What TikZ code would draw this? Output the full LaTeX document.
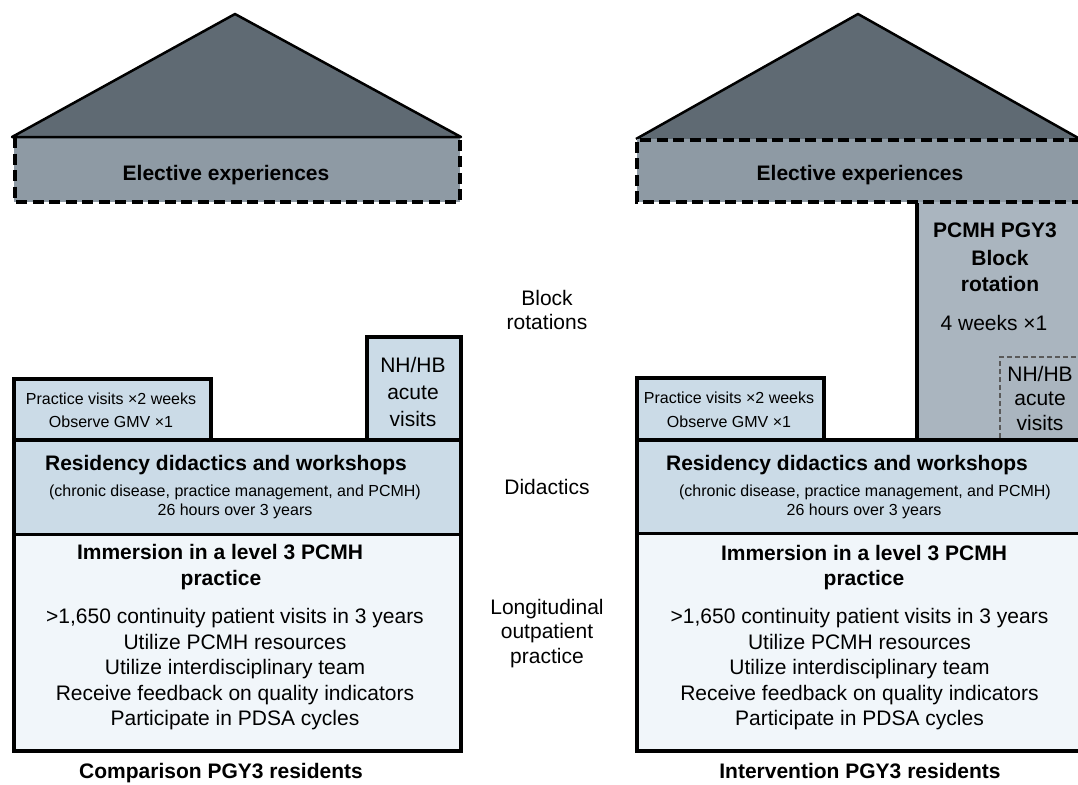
\documentclass[tikz,border=0pt]{standalone}
\usepackage{fontspec}
\setmainfont{Liberation Sans}
\definecolor{roofc}{HTML}{5F6A73}
\definecolor{electc}{HTML}{8E9AA4}
\definecolor{pcmhc}{HTML}{AAB5BF}
\definecolor{lbluec}{HTML}{CBDBE7}
\definecolor{palec}{HTML}{F1F6FA}
\tikzset{
  lbl/.style={anchor=base, inner sep=0pt, text=black},
  rtxt/.style={lbl, font=\fontsize{21}{25}\selectfont},
  btxt/.style={lbl, font=\fontsize{21}{25}\selectfont\bfseries},
  stxt/.style={lbl, font=\fontsize{16}{19}\selectfont},
  heavy/.style={draw=black, line width=4pt, line join=miter},
  midline/.style={draw=black, line width=3pt},
  roofline/.style={draw=black, line width=2.5pt, line join=round},
  elecdash/.style={draw=black, line width=4pt, dash pattern=on 11pt off 5.5pt},
  thindash/.style={draw=black!65, line width=1.3pt, dash pattern=on 5pt off 3pt},
}
\begin{document}
\begin{tikzpicture}[x=1pt,y=-1pt]
\useasboundingbox (0,0) rectangle (1078,784);
\clip (0,0) rectangle (1078,784);

% ---------------- Left house ----------------
\fill[roofc] (12,137) -- (235,14) -- (461,137) -- cycle;
\fill[electc] (14,137) rectangle (460,201.5);
\draw[elecdash] (14.5,137) -- (14.5,201.5) -- (460,201.5) -- (460,137);
\draw[roofline] (12,137) -- (235,14) -- (461,137) -- cycle;

\fill[lbluec] (14,379) rectangle (211,440);
\fill[lbluec] (367,337) rectangle (461,440);
\fill[lbluec] (14,440) rectangle (461,534);
\fill[palec] (14,534) rectangle (461,751);
\draw[heavy] (14,751) -- (14,379) -- (211,379) -- (211,440) -- (367,440) -- (367,337) -- (461,337) -- (461,751) -- cycle;
\draw[heavy] (14,440) -- (461,440);
\draw[midline] (14,534) -- (461,534);

% ---------------- Right house ----------------
\fill[roofc] (636,139) -- (858,14) -- (1080,139) -- cycle;
\draw[roofline] (636,139) -- (858,14) -- (1080,139);
\fill[pcmhc] (917,201.5) rectangle (1080,440);
\fill[electc] (636.5,139) rectangle (1080,201.5);
\draw[elecdash] (1080,139.5) -- (636.5,139.5) -- (636.5,201.5) -- (1080,201.5);

\fill[lbluec] (637,378) rectangle (824,440);
\fill[lbluec] (637,440) rectangle (1080,533);
\fill[palec] (637,533) rectangle (1080,751);
\draw[heavy] (1080,751) -- (637,751) -- (637,378) -- (824,378) -- (824,440);
\draw[heavy] (917,203) -- (917,440);
\draw[heavy] (637,440) -- (1080,440);
\draw[midline] (637,533) -- (1080,533);
\draw[thindash] (1000,438) -- (1000,357) -- (1080,357);

% ---------------- Left texts ----------------
\node[btxt] (elL) at (226,180.5) {Elective experiences};
\node[stxt] (pvL1) at (111,404.5) {Practice visits ×2 weeks};
\node[stxt] (pvL2) at (111,427.5) {Observe GMV ×1};
\node[rtxt] (nhL1) at (413,372.5) {NH/HB};
\node[rtxt] (nhL2) at (413,399.5) {acute};
\node[rtxt] (nhL3) at (413,426) {visits};
\node[btxt] (didL1) at (226,470.5) {Residency didactics and workshops};
\node[stxt] (didL2) at (235,496.5) {(chronic disease, practice management, and PCMH)};
\node[stxt] (didL3) at (235,515.5) {26 hours over 3 years};
\node[btxt] (imL1) at (220,559.5) {Immersion in a level 3 PCMH};
\node[btxt] (imL2) at (221,585) {practice};
\node[rtxt] (imL3) at (235,623) {>1,650 continuity patient visits in 3 years};
\node[rtxt] (imL4) at (235,649) {Utilize PCMH resources};
\node[rtxt] (imL5) at (235,674.5) {Utilize interdisciplinary team};
\node[rtxt] (imL6) at (235,700) {Receive feedback on quality indicators};
\node[rtxt] (imL7) at (235,725.5) {Participate in PDSA cycles};
\node[btxt] (capL) at (221,778.5) {Comparison PGY3 residents};

% ---------------- Middle labels ----------------
\node[rtxt] (mid1) at (547,305.5) {Block};
\node[rtxt] (mid2) at (547,329.5) {rotations};
\node[rtxt] (mid3) at (547,494.5) {Didactics};
\node[rtxt] (mid4) at (547,614) {Longitudinal};
\node[rtxt] (mid5) at (547,638.5) {outpatient};
\node[rtxt] (mid6) at (547,663) {practice};

% ---------------- Right texts ----------------
\node[btxt] (elR) at (860,180.5) {Elective experiences};
\node[btxt] (pc1) at (995,237.5) {PCMH PGY3};
\node[btxt] (pc2) at (1000,265.5) {Block};
\node[btxt] (pc3) at (1000,291.5) {rotation};
\node[rtxt] (pc4) at (994,330) {4 weeks ×1};
\node[rtxt] (nhR1) at (1040,381) {NH/HB};
\node[rtxt] (nhR2) at (1040,405) {acute};
\node[rtxt] (nhR3) at (1040,430) {visits};
\node[stxt] (pvR1) at (729,403.5) {Practice visits ×2 weeks};
\node[stxt] (pvR2) at (729,427.5) {Observe GMV ×1};
\node[btxt] (didR1) at (847,470.5) {Residency didactics and workshops};
\node[stxt] (didR2) at (865,496.5) {(chronic disease, practice management, and PCMH)};
\node[stxt] (didR3) at (864,515) {26 hours over 3 years};
\node[btxt] (imR1) at (864,560) {Immersion in a level 3 PCMH};
\node[btxt] (imR2) at (864,585) {practice};
\node[rtxt] (imR3) at (859.5,623) {>1,650 continuity patient visits in 3 years};
\node[rtxt] (imR4) at (859.5,649) {Utilize PCMH resources};
\node[rtxt] (imR5) at (859.5,674.5) {Utilize interdisciplinary team};
\node[rtxt] (imR6) at (859.5,700) {Receive feedback on quality indicators};
\node[rtxt] (imR7) at (859.5,725.5) {Participate in PDSA cycles};
\node[btxt] (capR) at (860,778.5) {Intervention PGY3 residents};
\end{tikzpicture}
\end{document}
